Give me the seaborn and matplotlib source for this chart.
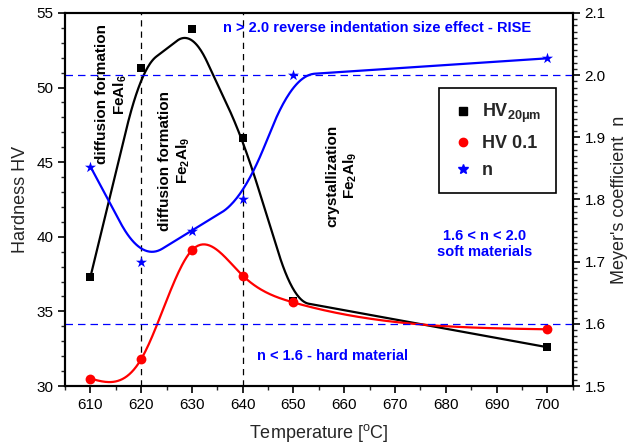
import numpy as np
import matplotlib
matplotlib.use("Agg")
import matplotlib.pyplot as plt
from matplotlib.lines import Line2D
import seaborn as sns

# data
temperature = [610, 620, 630, 640, 650, 700]
hv_20um = [37.3, 51.3, 53.9, 46.6, 35.7, 32.6]
hv_01 = [30.5, 31.8, 39.1, 37.4, 35.6, 33.8]
meyer_n = [1.853, 1.70, 1.75, 1.80, 2.0, 2.027]
vlines_temp = [620, 640]
n_limits = [2.0, 1.6]


def rounded_line(x, y, frac, n=40):
    # polyline through the points with its corners rounded off (quadratic bezier)
    x = np.asarray(x, float)
    y = np.asarray(y, float)
    xs, ys = [x[0]], [y[0]]
    s = np.linspace(0, 1, n)
    for i in range(1, len(x) - 1):
        dl = x[i] - x[i - 1]
        dr = x[i + 1] - x[i]
        r = frac * min(dl, dr)
        ax_, ay_ = x[i] - r, y[i] + (y[i - 1] - y[i]) * r / dl
        bx_, by_ = x[i] + r, y[i] + (y[i + 1] - y[i]) * r / dr
        xs.extend((1 - s) ** 2 * ax_ + 2 * s * (1 - s) * x[i] + s ** 2 * bx_)
        ys.extend((1 - s) ** 2 * ay_ + 2 * s * (1 - s) * y[i] + s ** 2 * by_)
    xs.append(x[-1])
    ys.append(y[-1])
    return np.array(xs), np.array(ys)


def cubic_spline(x, y, n=400):
    # natural cubic spline through the points
    x = np.asarray(x, float)
    y = np.asarray(y, float)
    m = len(x)
    h = np.diff(x)
    A = np.zeros((m, m))
    r = np.zeros(m)
    A[0, 0] = A[-1, -1] = 1
    for i in range(1, m - 1):
        A[i, i - 1] = h[i - 1]
        A[i, i] = 2 * (h[i - 1] + h[i])
        A[i, i + 1] = h[i]
        r[i] = 6 * ((y[i + 1] - y[i]) / h[i] - (y[i] - y[i - 1]) / h[i - 1])
    M = np.linalg.solve(A, r)
    xs = np.linspace(x[0], x[-1], n)
    idx = np.clip(np.searchsorted(x, xs) - 1, 0, m - 2)
    x0, x1, hh = x[idx], x[idx + 1], h[idx]
    ys = (M[idx] * (x1 - xs) ** 3 / (6 * hh) + M[idx + 1] * (xs - x0) ** 3 / (6 * hh)
          + (y[idx] / hh - M[idx] * hh / 6) * (x1 - xs)
          + (y[idx + 1] / hh - M[idx + 1] * hh / 6) * (xs - x0))
    return xs, ys


sns.set_theme(style="ticks")
plt.rcParams["font.family"] = ["Liberation Sans", "DejaVu Sans"]
plt.rcParams["mathtext.fontset"] = "custom"
plt.rcParams["mathtext.rm"] = "Liberation Sans"
plt.rcParams["mathtext.it"] = "Liberation Sans"
plt.rcParams["mathtext.bf"] = "Liberation Sans:bold"
plt.rcParams["mathtext.default"] = "regular"

fig = plt.figure(figsize=(6.28, 4.46), dpi=100)
ax = fig.add_axes([0.1035, 0.1345, 0.8085, 0.8365])
ax2 = ax.twinx()

# smooth curves
bx, by = rounded_line(temperature, hv_20um, 0.3)
sns.lineplot(x=bx, y=by, ax=ax, color="black", lw=1.6, sort=False, estimator=None)
rx, ry = cubic_spline(temperature, hv_01)
sns.lineplot(x=rx, y=ry, ax=ax, color="red", lw=1.6, sort=False, estimator=None)
nx, ny = rounded_line(temperature, meyer_n, 0.42)
sns.lineplot(x=nx, y=ny, ax=ax2, color="blue", lw=1.6, sort=False, estimator=None)

# markers
sns.scatterplot(x=temperature, y=hv_20um, ax=ax, color="black", marker="s", s=38,
                edgecolor="black", linewidth=0, zorder=5)
sns.scatterplot(x=temperature, y=hv_01, ax=ax, color="red", marker="o", s=50,
                edgecolor="red", linewidth=0, zorder=5)
sns.scatterplot(x=temperature, y=meyer_n, ax=ax2, color="blue", marker="*", s=70,
                edgecolor="blue", linewidth=0, zorder=5)

for xv in vlines_temp:
    ax.axvline(xv, color="black", ls=(0, (5, 4)), lw=0.9)
for nv in n_limits:
    ax2.axhline(nv, color="blue", ls=(0, (6, 4)), lw=0.9)

ax.set_xlim(605, 705)
ax.set_ylim(30, 55)
ax2.set_ylim(1.5, 2.1)
ax.set_xticks(np.arange(610, 701, 10))
ax.set_xticks(np.arange(605, 706, 5), minor=True)
ax.set_yticks(np.arange(30, 56, 5))
ax.set_yticks(np.arange(30, 56, 1), minor=True)
ax2.set_yticks(np.arange(1.5, 2.11, 0.1))
ax2.set_yticks(np.arange(1.5, 2.101, 0.01), minor=True)
ax2.set_yticklabels(["1.5", "1.6", "1.7", "1.8", "1.9", "2.0", "2.1"])

for a in (ax, ax2):
    for s in a.spines.values():
        s.set_linewidth(1.5)
        s.set_color("black")
    a.tick_params(which="major", direction="out", length=5, width=1.2, labelsize=11, colors="black")
    a.tick_params(which="minor", direction="out", length=3, width=1.0)

ax.set_xlabel("Temperature [$^{o}$C]", fontsize=13, labelpad=7)
ax.set_ylabel("Hardness HV", fontsize=13, labelpad=5)
ax2.set_ylabel("Meyer's coefficient  n", fontsize=13, labelpad=4)

# annotations
bold = dict(fontweight="bold", fontsize=11)
ax.text(614.3, 49.55, "diffusion formation\nFeAl$_6$", rotation=90, ha="center", va="center",
        multialignment="center", color="black", **bold)
ax.text(626.6, 45.1, "diffusion formation\nFe$_2$Al$_9$", rotation=90, ha="center", va="center",
        multialignment="center", color="black", **bold)
ax.text(659.6, 44.1, "crystallization\nFe$_2$Al$_9$", rotation=90, ha="center", va="center",
        multialignment="center", color="black", **bold)
ax.text(666.4, 54.0, "n > 2.0 reverse indentation size effect - RISE", ha="center", va="center",
        color="blue", fontweight="bold", fontsize=10.5)
ax.text(687.7, 39.5, "1.6 < n < 2.0\nsoft materials", ha="center", va="center",
        multialignment="center", color="blue", fontweight="bold", fontsize=10.5)
ax.text(657.7, 32.0, "n < 1.6 - hard material", ha="center", va="center",
        color="blue", fontweight="bold", fontsize=10.5)

# legend
handles = [
    Line2D([], [], ls="none", marker="s", color="black", markersize=5.5),
    Line2D([], [], ls="none", marker="o", color="red", markersize=6),
    Line2D([], [], ls="none", marker="*", color="blue", markersize=7.5),
]
labels = ["HV$_{20\\mu m}$", "HV 0.1", "n"]
leg = ax.legend(handles, labels, loc="upper left", bbox_to_anchor=(0.736, 0.80),
                frameon=True, fancybox=False, edgecolor="black", framealpha=1,
                prop=dict(weight="bold", size=13), handletextpad=0.53,
                labelspacing=0.55, borderpad=0.8, handlelength=1.06, borderaxespad=0)
leg.get_frame().set_linewidth(1.2)

fig.savefig("out.png", dpi=100)
